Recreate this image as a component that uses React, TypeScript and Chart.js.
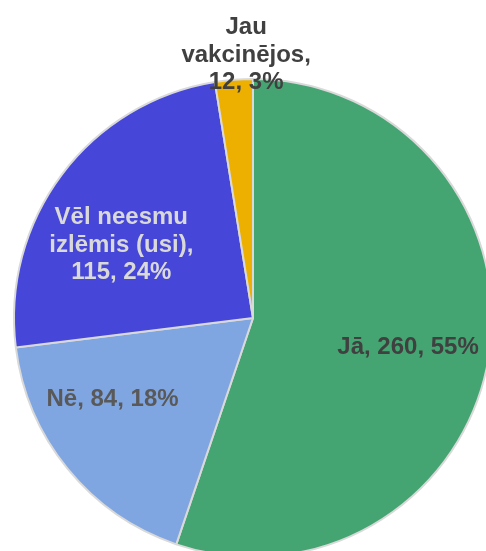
import React, { useEffect, useRef } from "react";
import { Chart, registerables } from "chart.js";

Chart.register(...registerables);

const categories = ["Jā", "Nē", "Vēl neesmu izlēmis (usi)", "Jau vakcinējos"];
const categoryLines = [["Jā"], ["Nē"], ["Vēl neesmu", "izlēmis (usi)"], ["Jau", "vakcinējos"]];
const values = [260, 84, 115, 12];
const colors = ["#45A572", "#80A6E2", "#4646D8", "#EDB000"];
const labelColors = ["#404040", "#595959", "#D9D9D9", "#404040"];
// label placement: [angle (deg, clockwise from top), radius factor]
const labelPlacement: [number, number][] = [
  [100.6, 0.66],
  [239.8, 0.68],
  [299, 0.63],
  [358.5, 1.1],
];

const labelPlugin = {
  id: "sliceLabels",
  afterDraw(chart: any) {
    const ctx = chart.ctx;
    const meta = chart.getDatasetMeta(0);
    const total = values.reduce((a, b) => a + b, 0);
    ctx.save();
    ctx.font = "bold 24px 'Liberation Sans', Arial, sans-serif";
    ctx.textAlign = "center";
    ctx.textBaseline = "middle";
    meta.data.forEach((arc: any, i: number) => {
      const { x, y, outerRadius } = arc.getProps(["x", "y", "outerRadius"], true);
      const [deg, rf] = labelPlacement[i];
      const a = ((deg - 90) * Math.PI) / 180;
      const px = x + outerRadius * rf * Math.cos(a);
      const py = y + outerRadius * rf * Math.sin(a);
      const pct = Math.round((values[i] / total) * 100);
      const cl = categoryLines[i];
      let lines: string[];
      if (cl.length > 1) {
        lines = [...cl.slice(0, -1), cl[cl.length - 1] + ",", `${values[i]}, ${pct}%`];
      } else {
        lines = [`${cl[0]}, ${values[i]}, ${pct}%`];
      }
      const lh = 27.5;
      const startY = py - ((lines.length - 1) * lh) / 2;
      ctx.fillStyle = labelColors[i];
      lines.forEach((ln, k) => ctx.fillText(ln, px, startY + k * lh));
    });
    ctx.restore();
  },
};

export default function App() {
  const ref = useRef<HTMLCanvasElement>(null);
  useEffect(() => {
    if (!ref.current) return;
    const chart = new Chart(ref.current, {
      type: "pie",
      data: {
        labels: categories,
        datasets: [
          {
            data: values,
            backgroundColor: colors,
            borderColor: "#D9D9D9",
            borderWidth: 2,
          },
        ],
      },
      options: {
        responsive: false,
        animation: false,
        layout: { padding: { left: 13, top: 78, right: 13, bottom: 42 } },
        plugins: {
          legend: { display: false },
          tooltip: { enabled: false },
          title: { display: false },
        },
      },
      plugins: [labelPlugin],
    });
    return () => chart.destroy();
  }, []);
  return (
    <div
      style={{
        position: "fixed",
        left: 0,
        top: 0,
        width: 486,
        height: 551,
        overflow: "hidden",
        background: "#fff",
      }}
    >
      <canvas ref={ref} width={506} height={600} style={{ width: 506, height: 600, display: "block" }} />
    </div>
  );
}
